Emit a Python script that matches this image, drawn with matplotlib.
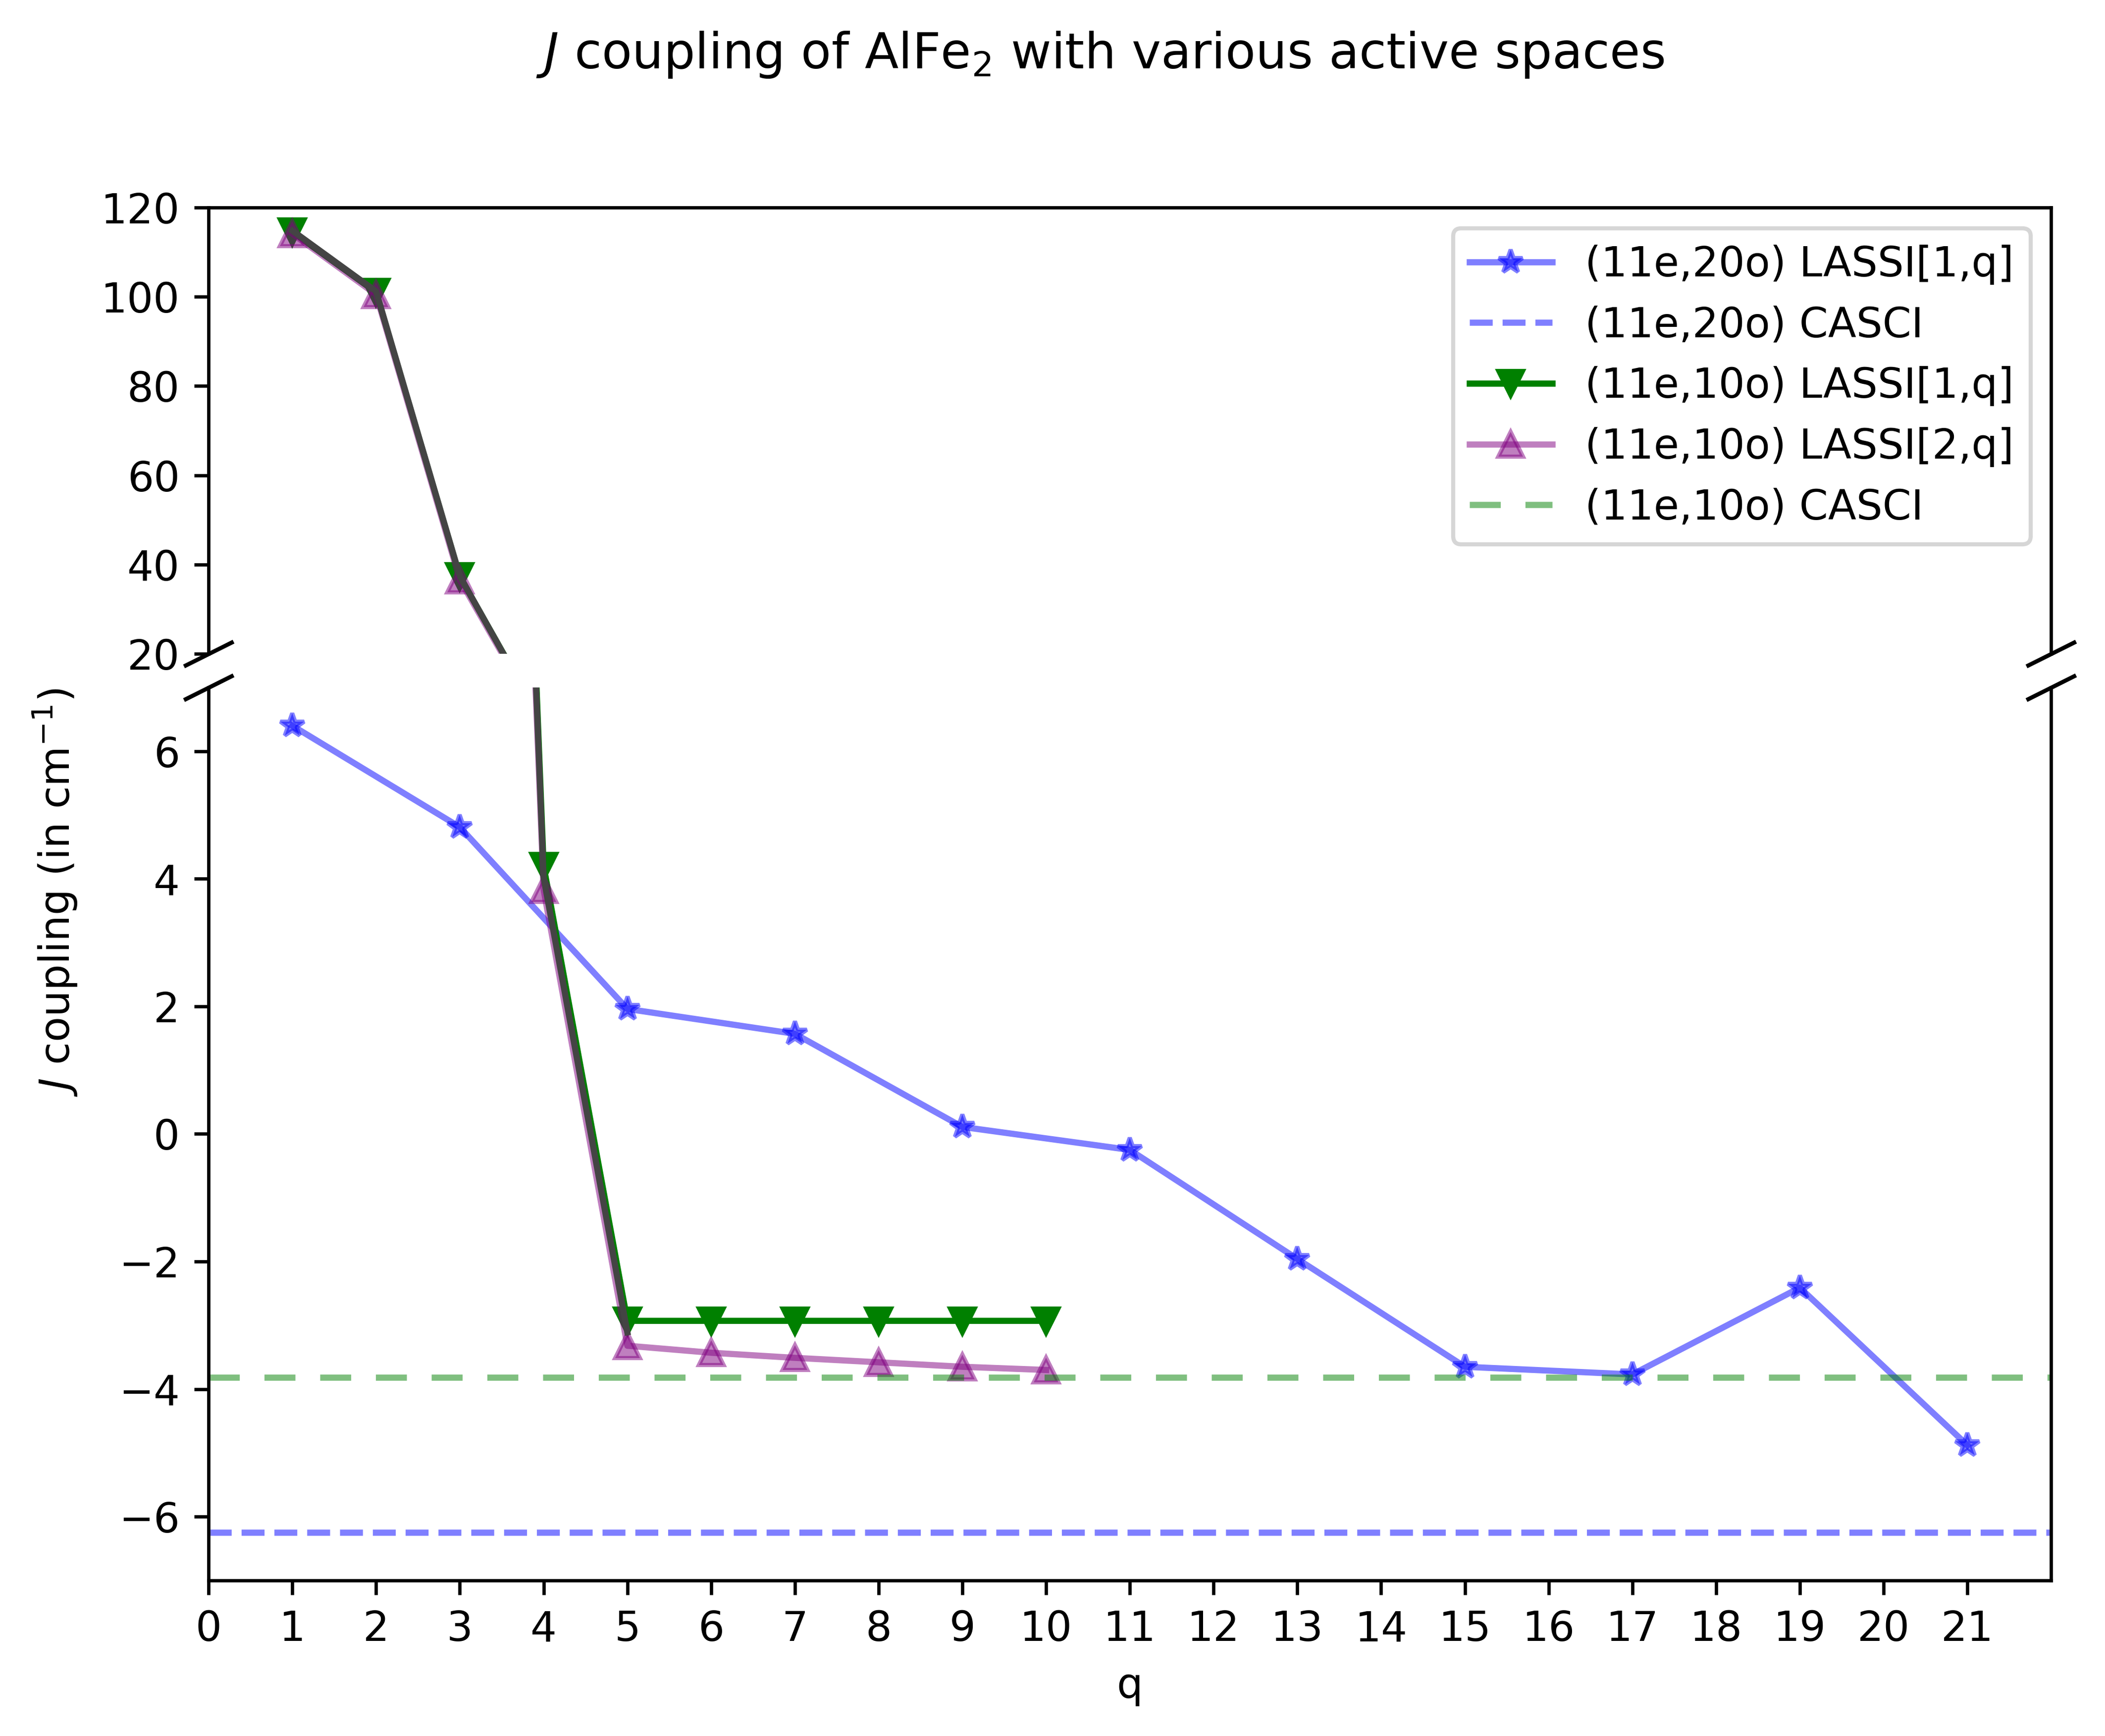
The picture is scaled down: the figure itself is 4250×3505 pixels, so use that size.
import matplotlib
matplotlib.use('Agg')
import matplotlib.pyplot as plt

# (11e,20o) LASSI[1,q]
q20 = [1, 3, 5, 7, 9, 11, 13, 15, 17, 19, 21]
j20 = [6.40, 4.81, 1.96, 1.57, 0.11, -0.25, -1.96, -3.65, -3.77, -2.41, -4.88]
casci20 = -6.25

# (11e,10o) LASSI[1,q] and LASSI[2,q]
q10 = [1, 2, 3, 4, 5, 6, 7, 8, 9, 10]
j10_1 = [114.5, 101.0, 37.3, 4.20, -2.93, -2.93, -2.93, -2.93, -2.93, -2.93]
j10_2 = [114.1, 100.5, 36.6, 3.83, -3.32, -3.43, -3.51, -3.58, -3.65, -3.70]
casci10 = -3.82

# dark overlay line on the first points
q_dark = [1, 2, 3, 4, 5]
j_dark = [114.8, 101.2, 37.4, 4.02, -3.11]

fig, (ax1, ax2) = plt.subplots(2, 1, sharex=True, figsize=(4250/600, 3505/600),
                               gridspec_kw={'height_ratios': [1, 2]})
fig.subplots_adjust(left=0.0991, right=0.9744, top=0.8805, bottom=0.0896, hspace=0.05)

for ax in (ax1, ax2):
    ax.plot(q20, j20, color='blue', marker='*', alpha=0.5, label='(11e,20o) LASSI[1,q]')
    ax.axhline(casci20, color='blue', ls='--', alpha=0.5, label='(11e,20o) CASCI')
    ax.plot(q10, j10_1, color='green', marker='v', label='(11e,10o) LASSI[1,q]')
    ax.plot(q10, j10_2, color='purple', marker='^', alpha=0.5, label='(11e,10o) LASSI[2,q]')
    ax.axhline(casci10, color='green', ls=(0, (5, 4)), alpha=0.5, label='(11e,10o) CASCI')
    ax.plot(q_dark, j_dark, color='#444444')

ax1.set_ylim(20, 120)
ax2.set_ylim(-7, 7)
ax2.set_xlim(0, 22)
ax2.set_xticks(range(22))

ax1.spines['bottom'].set_visible(False)
ax2.spines['top'].set_visible(False)
ax1.tick_params(bottom=False, labelbottom=False)

# break marks
d = .5
kw = dict(marker=[(-1, -d), (1, d)], markersize=12, linestyle='none',
          color='k', mec='k', mew=1, clip_on=False)
ax1.plot([0, 1], [0, 0], transform=ax1.transAxes, **kw)
ax2.plot([0, 1], [1, 1], transform=ax2.transAxes, **kw)

ax1.legend(loc='upper right')
ax2.set_xlabel('q')
fig.text(0.0263, 0.486, r'$J$ coupling (in cm$^{-1}$)', rotation=90,
         ha='center', va='center')
fig.suptitle(r'$J$ coupling of AlFe$_2$ with various active spaces', x=0.5226, y=0.983)

fig.savefig('out.png', dpi=600)
